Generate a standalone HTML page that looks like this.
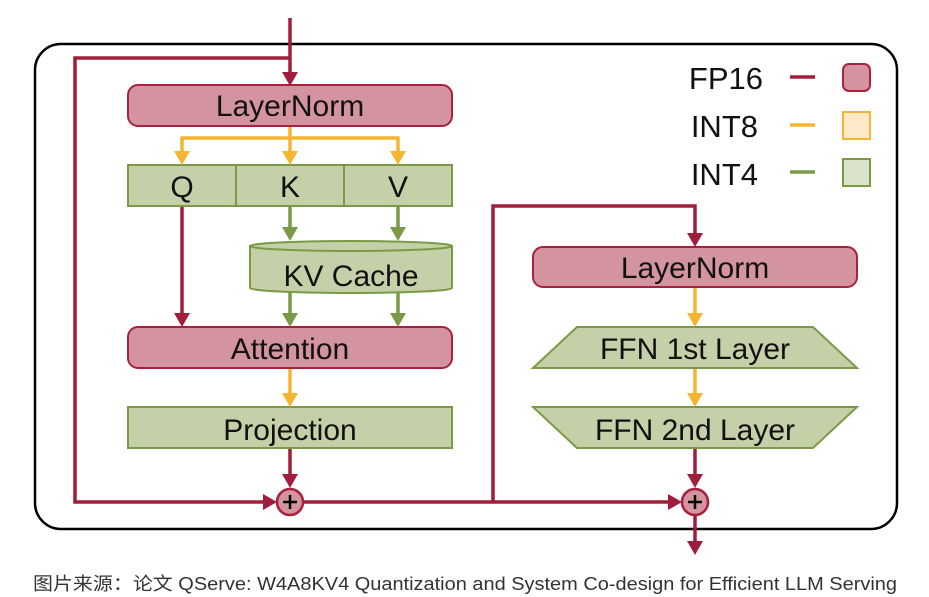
<!DOCTYPE html>
<html><head><meta charset="utf-8"><style>
html,body{margin:0;padding:0;background:#fff;}
svg{display:block;}
text{font-family:"Liberation Sans",Arial,sans-serif;fill:#111;}
</style></head><body>
<svg width="929" height="597" viewBox="0 0 929 597" xmlns="http://www.w3.org/2000/svg">
<rect x="35" y="44" width="862" height="485" rx="26" fill="none" stroke="#000" stroke-width="2.5"/>
<g fill="none" stroke-width="3.5">
<path d="M290,18 V80" stroke="#a01e3c"/>
<path d="M290,58 H75 V502 H272" stroke="#a01e3c"/>
<path d="M290,126 V152 M290,138 H182 V152 M290,138 H398 V152" stroke="#f4b630"/>
<path d="M182,206 V314" stroke="#a01e3c"/>
<path d="M290,206 V228 M398,206 V228 M290,292 V314 M398,292 V314" stroke="#7a9a48"/>
<path d="M290,368 V394" stroke="#f4b630"/>
<path d="M290,448 V476" stroke="#a01e3c"/>
<path d="M303,502 H670" stroke="#a01e3c"/>
<path d="M493,502 V206 H695 V234" stroke="#a01e3c"/>
<path d="M695,287 V314 M695,368 V394" stroke="#f4b630"/>
<path d="M695,448 V476" stroke="#a01e3c"/>
<path d="M695,515 V543" stroke="#a01e3c"/>
</g>
<g stroke="#a8213e" stroke-width="2" fill="#d4949f">
<rect x="128" y="85" width="324" height="41" rx="10"/>
<rect x="128" y="327" width="324" height="41" rx="10"/>
<rect x="533" y="247" width="324" height="40" rx="10"/>
</g>
<g stroke="#7a9a48" stroke-width="2" fill="#c5d0a8">
<rect x="128" y="165" width="324" height="41"/>
<path d="M236,165 V206 M344,165 V206" fill="none"/>
<path d="M250,246 V288 A101,5 0 0 0 452,288 V246 Z"/>
<ellipse cx="351" cy="246" rx="101" ry="5"/>
<rect x="128" y="407" width="324" height="41"/>
<path d="M577,327 H813 L857,368 H533 Z"/>
<path d="M533,407 H857 L813,448 H577 Z"/>
</g>
<!-- arrowheads -->
<g fill="#a01e3c">
<path d="M282,72 L298,72 L290,86 Z"/>
<path d="M174,313 L190,313 L182,327 Z"/>
<path d="M282,474 L298,474 L290,488 Z"/>
<path d="M263,494 L263,510 L277,502 Z"/>
<path d="M687,233 L703,233 L695,247 Z"/>
<path d="M687,474 L703,474 L695,488 Z"/>
<path d="M668,494 L668,510 L682,502 Z"/>
<path d="M687,541 L703,541 L695,555 Z"/>
</g>
<g fill="#f4b630">
<path d="M174,151 L190,151 L182,165 Z"/><path d="M282,151 L298,151 L290,165 Z"/><path d="M390,151 L406,151 L398,165 Z"/>
<path d="M282,393 L298,393 L290,407 Z"/>
<path d="M687,313 L703,313 L695,327 Z"/><path d="M687,393 L703,393 L695,407 Z"/>
</g>
<g fill="#7a9a48">
<path d="M282,227 L298,227 L290,241 Z"/><path d="M390,227 L406,227 L398,241 Z"/>
<path d="M282,313 L298,313 L290,327 Z"/><path d="M390,313 L406,313 L398,327 Z"/>
</g>
<g stroke="#a8213e" stroke-width="2.5" fill="#d4949f">
<circle cx="290" cy="502" r="13"/><circle cx="695" cy="502" r="13"/>
</g>
<g stroke="#000" stroke-width="2.5"><path d="M283,502 H297 M290,495 V509 M688,502 H702 M695,495 V509"/></g>
<g font-size="30" text-anchor="middle">
<text x="290" y="116">LayerNorm</text>
<text x="182" y="197">Q</text><text x="290" y="197">K</text><text x="398" y="197">V</text>
<text x="351" y="286">KV Cache</text>
<text x="290" y="359">Attention</text>
<text x="290" y="440">Projection</text>
<text x="695" y="278">LayerNorm</text>
<text x="695" y="359">FFN 1st Layer</text>
<text x="695" y="440">FFN 2nd Layer</text>
</g>
<g font-size="31" text-anchor="end">
<text x="763" y="89">FP16</text><text x="758" y="137">INT8</text><text x="758" y="185">INT4</text>
</g>
<g stroke-width="3.5"><path d="M790,77 H815" stroke="#a01e3c"/><path d="M790,125 H815" stroke="#f4b630"/><path d="M790,172 H815" stroke="#7a9a48"/></g>
<rect x="843" y="64" width="27" height="27" rx="6" fill="#d4949f" stroke="#a8213e" stroke-width="2"/>
<rect x="843" y="112" width="27" height="27" fill="#fde8c8" stroke="#f4b630" stroke-width="2"/>
<rect x="843" y="159" width="27" height="27" fill="#dbe3cc" stroke="#7a9a48" stroke-width="2"/>
<text x="33" y="590" font-size="18" textLength="864" lengthAdjust="spacingAndGlyphs" style="fill:#333;font-family:'Liberation Sans','Noto Sans CJK SC',sans-serif">图片来源：论文 QServe: W4A8KV4 Quantization and System Co-design for Efficient LLM Serving</text>
</svg>
</body></html>
